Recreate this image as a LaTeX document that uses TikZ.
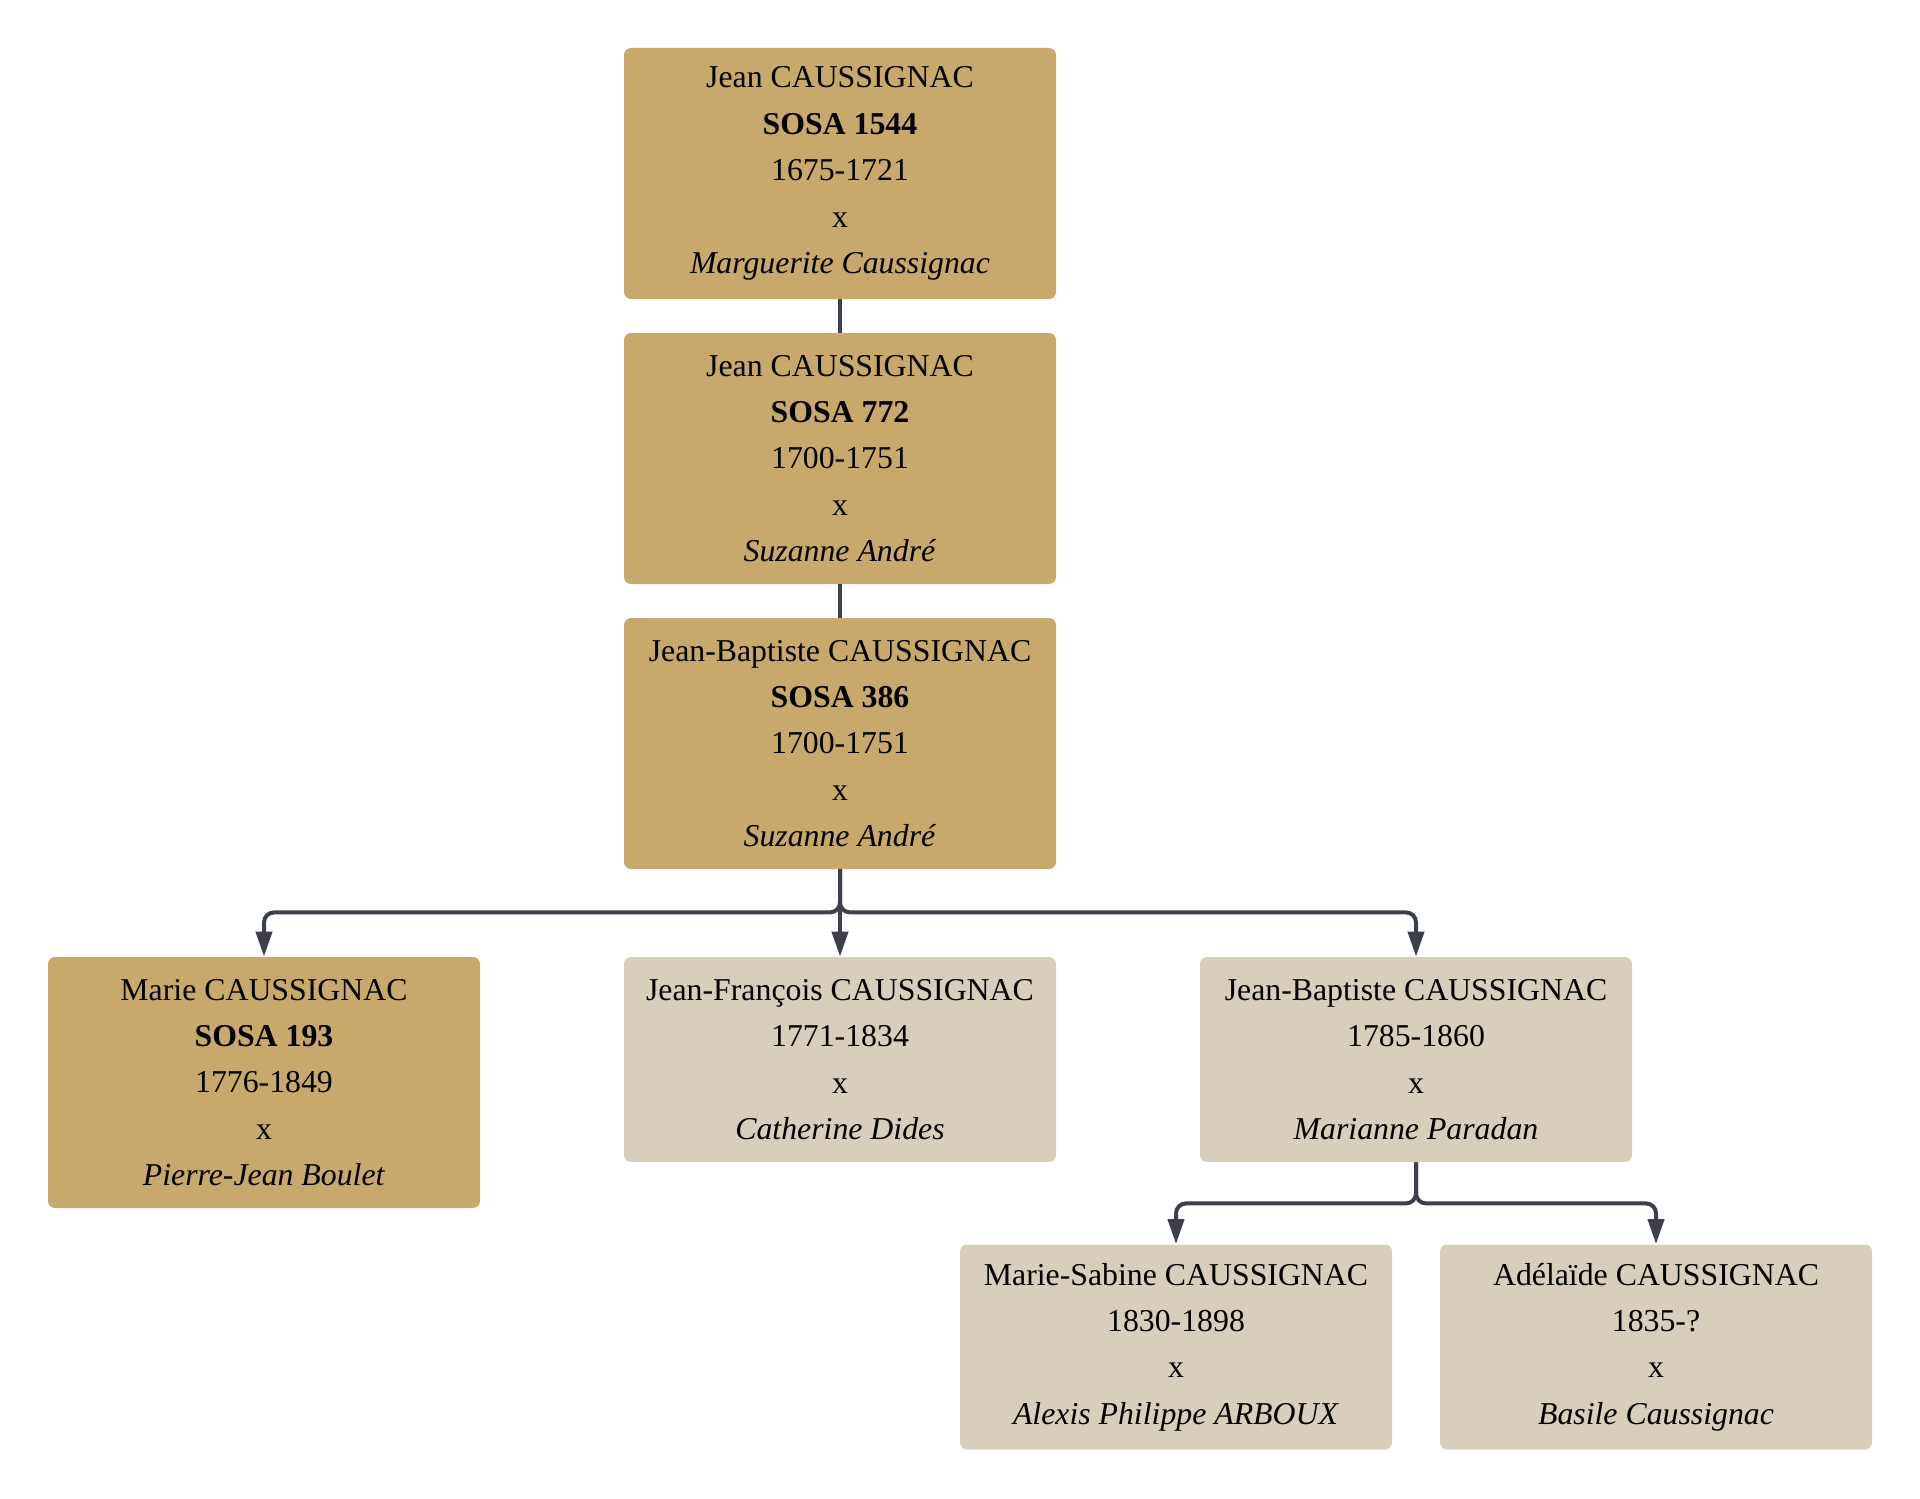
\documentclass[tikz,border=0pt]{standalone}
\usepackage{fontspec}
\setmainfont{Liberation Serif}
\usetikzlibrary{arrows.meta}
\definecolor{sosacol}{HTML}{C9A86B}
\definecolor{autrecol}{HTML}{D8CFBA}
\definecolor{liencol}{HTML}{3B414B}
\tikzset{
  pers/.style={rounded corners=3.5pt,minimum width=216pt,inner sep=0pt,align=center,
    font=\fontsize{15.9}{23.2}\selectfont},
  sosabox/.style={pers,fill=sosacol,minimum height=125.5pt},
  autrebox/.style={pers,fill=autrecol,minimum height=102.5pt},
  lien/.style={draw=liencol,line width=2pt,rounded corners=5pt},
}
\begin{document}
\begin{tikzpicture}[x=0.5pt,y=-0.5pt,>={Triangle[length=12.5pt,width=8pt]}]
  \useasboundingbox (0,0) rectangle (1920,1498);
  % ascendants
  \node[sosabox] (j1544) at (840,173.5) {Jean CAUSSIGNAC\\\textbf{SOSA 1544}\\1675-1721\\x\\\textit{Marguerite Caussignac}};
  \node[sosabox] (j772) at (840,458.5) {Jean CAUSSIGNAC\\\textbf{SOSA 772}\\1700-1751\\x\\\textit{Suzanne André}};
  \node[sosabox] (jb386) at (840,743.5) {Jean-Baptiste CAUSSIGNAC\\\textbf{SOSA 386}\\1700-1751\\x\\\textit{Suzanne André}};
  % enfants
  \node[sosabox] (marie) at (264,1082.5) {Marie CAUSSIGNAC\\\textbf{SOSA 193}\\1776-1849\\x\\\textit{Pierre-Jean Boulet}};
  \node[autrebox] (jf) at (840,1059.5) {Jean-François CAUSSIGNAC\\1771-1834\\x\\\textit{Catherine Dides}};
  \node[autrebox] (jb) at (1416,1059.5) {Jean-Baptiste CAUSSIGNAC\\1785-1860\\x\\\textit{Marianne Paradan}};
  % petits-enfants
  \node[autrebox] (ms) at (1176,1347) {Marie-Sabine CAUSSIGNAC\\1830-1898\\x\\\textit{Alexis Philippe ARBOUX}};
  \node[autrebox] (ade) at (1656,1347) {Adélaïde CAUSSIGNAC\\1835-?\\x\\\textit{Basile Caussignac}};
  \draw[lien] (j1544.south)--(j772.north);
  \draw[lien] (j772.south)--(jb386.north);
  \draw[lien,->] (jb386.south)--++(0,43)-|(marie.north);
  \draw[lien,->] (jb386.south)--(jf.north);
  \draw[lien,->] (jb386.south)--++(0,43)-|(jb.north);
  \draw[lien,->] (jb.south)--++(0,41)-|(ms.north);
  \draw[lien,->] (jb.south)--++(0,41)-|(ade.north);
\end{tikzpicture}
\end{document}
